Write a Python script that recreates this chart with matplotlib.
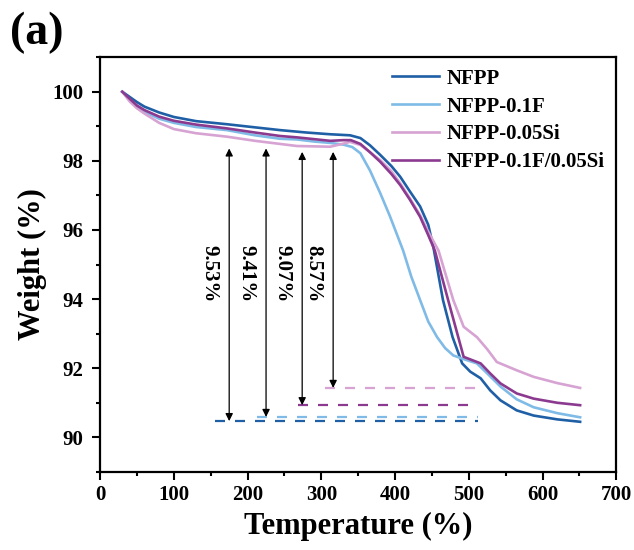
import numpy as np
import matplotlib
matplotlib.use("Agg")
import matplotlib.pyplot as plt
from matplotlib.ticker import MultipleLocator

plt.rcParams['font.family'] = ['Liberation Serif', 'DejaVu Serif']
plt.rcParams['font.weight'] = 'bold'

# TGA curves (temperature in C, weight in %)
t_nfpp = [30, 40, 50, 60, 80, 100, 130, 172, 210, 244, 280, 312, 339, 353, 366, 380, 395,
          407, 420, 434, 445, 452, 465, 478, 491, 502, 516, 529, 543, 565, 588, 620, 651]
w_nfpp = [100.0, 99.85, 99.7, 99.57, 99.4, 99.27, 99.15, 99.06, 98.97, 98.89, 98.82, 98.77,
          98.74, 98.66, 98.45, 98.17, 97.85, 97.54, 97.12, 96.68, 96.15, 95.5, 93.97, 92.9,
          92.14, 91.9, 91.71, 91.36, 91.07, 90.78, 90.63, 90.52, 90.45]

t_f = [30, 40, 50, 60, 80, 100, 130, 172, 210, 244, 267, 290, 312, 330, 342, 353, 366, 380,
       393, 404, 411, 422, 434, 445, 457, 468, 479, 495, 511, 525, 543, 565, 588, 620, 651]
w_f = [100.0, 99.78, 99.58, 99.42, 99.22, 99.10, 98.98, 98.89, 98.74, 98.64, 98.62, 98.56,
       98.52, 98.47, 98.40, 98.22, 97.72, 97.06, 96.4, 95.79, 95.4, 94.65, 93.97, 93.35,
       92.9, 92.58, 92.37, 92.25, 92.14, 91.85, 91.47, 91.1, 90.87, 90.7, 90.58]

t_si = [30, 40, 50, 60, 80, 100, 130, 172, 210, 244, 267, 312, 330, 339, 353, 366, 380, 395,
        407, 420, 434, 445, 459, 479, 493, 511, 525, 538, 565, 588, 620, 651]
w_si = [100.0, 99.72, 99.52, 99.37, 99.1, 98.92, 98.8, 98.70, 98.58, 98.49, 98.43, 98.41,
        98.5, 98.55, 98.46, 98.25, 98.02, 97.7, 97.35, 96.92, 96.43, 95.95, 95.4, 93.97,
        93.2, 92.9, 92.55, 92.18, 91.94, 91.75, 91.57, 91.43]

t_fsi = [30, 40, 50, 60, 80, 100, 130, 172, 210, 244, 267, 312, 330, 340, 353, 366, 380, 395,
         407, 420, 434, 445, 454, 472, 493, 516, 529, 543, 565, 588, 620, 651]
w_fsi = [100.0, 99.8, 99.6, 99.47, 99.28, 99.16, 99.05, 98.94, 98.82, 98.72, 98.68, 98.58,
         98.60, 98.60, 98.49, 98.25, 97.97, 97.62, 97.3, 96.88, 96.38, 95.85, 95.4, 93.97,
         92.33, 92.14, 91.85, 91.56, 91.27, 91.12, 91.0, 90.93]

labels = ['NFPP', 'NFPP-0.1F', 'NFPP-0.05Si', 'NFPP-0.1F/0.05Si']
colors = ['#1f5fa6', '#7fbbe6', '#d6a3d3', '#8b3a8f']

# weight-loss markers: percentage, arrow temperature, dashed line start
losses = [9.53, 9.41, 9.07, 8.57]
arrow_t = [175, 225, 274, 316]
arrow_top = [98.36, 98.36, 98.26, 98.26]
dash_start = [156, 213, 269, 305]
dash_end = 513
dash_colors = ['#1f5fa6', '#7fbbe6', '#8b3a8f', '#d6a3d3']

fig = plt.figure(figsize=(6.34, 5.5), dpi=100)
ax = fig.add_axes([0.158, 0.142, 0.814, 0.754])

series = [(t_nfpp, w_nfpp), (t_f, w_f), (t_si, w_si), (t_fsi, w_fsi)]
for (t, w), lab, c in zip(series, labels, colors):
    ax.plot(t, w, color=c, lw=1.9, label=lab)

for loss, xa, top, xs, c in zip(losses, arrow_t, arrow_top, dash_start, dash_colors):
    final = 100 - loss
    ax.plot([xs, dash_end], [final, final], color=c, lw=1.6, dashes=(4.5, 4.5))
    ax.annotate('', xy=(xa, final), xytext=(xa, top),
                arrowprops=dict(arrowstyle='<|-|>', color='black', lw=0.9,
                                mutation_scale=11, shrinkA=0, shrinkB=0))
    ax.text(xa - 27, 94.75, f'{loss:.2f}%', rotation=-90, ha='center', va='center',
            fontsize=15)

ax.set_xlim(0, 700)
ax.set_ylim(89, 101)
ax.xaxis.set_major_locator(MultipleLocator(100))
ax.xaxis.set_minor_locator(MultipleLocator(50))
ax.yaxis.set_major_locator(MultipleLocator(2))
ax.yaxis.set_minor_locator(MultipleLocator(1))
ax.tick_params(which='major', direction='out', length=6, width=1.5, labelsize=15)
ax.tick_params(axis='y', which='major', pad=6)
ax.tick_params(which='minor', direction='out', length=3, width=1.5)
for s in ax.spines.values():
    s.set_linewidth(1.6)

ax.set_xlabel('Temperature (%)', fontsize=22, fontweight='bold', labelpad=5)
ax.set_ylabel('Weight (%)', fontsize=22, fontweight='bold', labelpad=4)

ax.legend(loc='upper right', frameon=False, fontsize=15, handlelength=2.3,
          handletextpad=0.35, labelspacing=0.38, borderaxespad=0.15,
          bbox_to_anchor=(1.0, 1.0))

fig.text(0.015, 0.978, '(a)', fontsize=33, fontweight='bold', va='top', ha='left')

fig.savefig('out.png', dpi=100)
